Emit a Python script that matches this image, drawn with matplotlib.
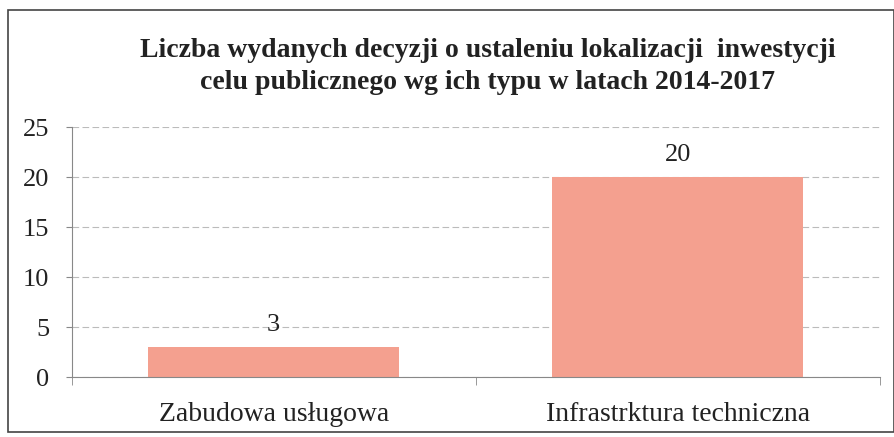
import matplotlib.pyplot as plt
from matplotlib.patches import Rectangle

#
# data
#
categories = ['Zabudowa usługowa', 'Infrastrktura techniczna']
counts = [3, 20]
yticks = [0, 5, 10, 15, 20, 25]

plt.rcParams['font.family'] = ['Liberation Serif', 'DejaVu Serif']

fig = plt.figure(figsize=(8.95, 4.37), dpi=100)
ax = fig.add_axes([0.080, 0.137, 0.903, 0.572])

x = list(range(len(categories)))
bars = ax.bar(x, counts, width=0.62, color='#F4A08F', zorder=2)

for b, v in zip(bars, counts):
    ax.text(b.get_x() + b.get_width() / 2, v + 1.1, str(v),
            ha='center', va='bottom', fontsize=19, color='#222222')

ax.set_xlim(-0.5, 1.5)
ax.set_ylim(0, 25)
ax.set_yticks(yticks)
ax.set_yticklabels([str(t) for t in yticks], fontsize=19, color='#222222')
ax.set_xticks(x)
ax.set_xticklabels(categories, fontsize=20, color='#222222')
ax.tick_params(axis='x', length=0, pad=18)
ax.tick_params(axis='y', length=4, color='#888888', pad=12)
ax.set_xticks([-0.5, 0.5, 1.5], minor=True)
ax.tick_params(axis='x', which='minor', length=6, color='#888888')

ax.grid(axis='y', linestyle=(0, (6, 3)), color='#bbbbbb', linewidth=0.8, zorder=0)
for s in ['top', 'right']:
    ax.spines[s].set_visible(False)
ax.spines['left'].set_color('#888888')
ax.spines['bottom'].set_color('#888888')

fig.text(0.545, 0.848, 'Liczba wydanych decyzji o ustaleniu lokalizacji  inwestycji\n'
         'celu publicznego wg ich typu w latach 2014-2017',
         ha='center', va='center', fontsize=20, fontweight='bold',
         linespacing=1.4, color='#222222')

# outer frame of the chart
fig.patches.append(Rectangle((0.009, 0.012), 0.99, 0.965, transform=fig.transFigure,
                             fill=False, edgecolor='#444444', linewidth=1.2))

plt.savefig('out.png', dpi=100)
